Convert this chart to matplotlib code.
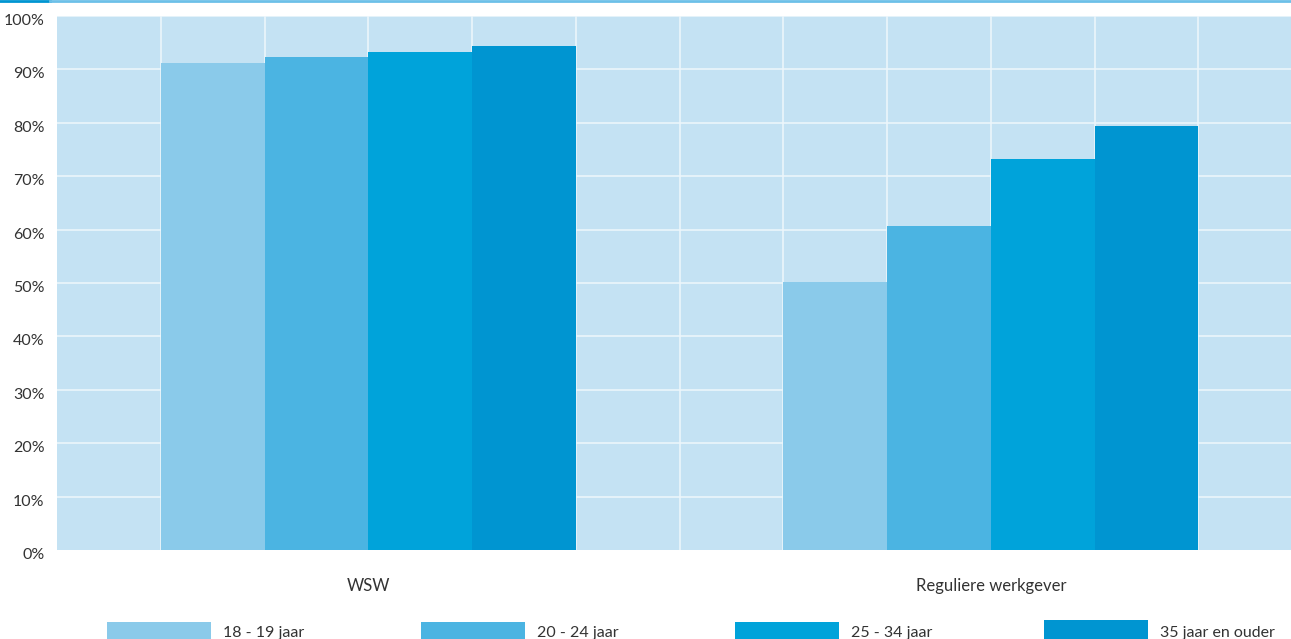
import matplotlib
matplotlib.use("Agg")
import matplotlib.pyplot as plt
import matplotlib.transforms as mtransforms
from matplotlib.patches import Rectangle
from matplotlib.lines import Line2D
import numpy as np

categories = ["WSW", "Reguliere werkgever"]
series = ["18 - 19 jaar", "20 - 24 jaar", "25 - 34 jaar", "35 jaar en ouder"]
values = {
    "18 - 19 jaar": [91.2, 50.2],
    "20 - 24 jaar": [92.3, 60.7],
    "25 - 34 jaar": [93.2, 73.2],
    "35 jaar en ouder": [94.4, 79.4],
}
yticks = [0, 10, 20, 30, 40, 50, 60, 70, 80, 90, 100]
colors = ["#8ACAEA", "#4BB4E2", "#00A3DA", "#0095D1"]

plt.rcParams['font.family'] = ['Lato', 'DejaVu Sans']

W, H = 1291, 639
fig = plt.figure(figsize=(W / 100, H / 100), dpi=100)

def px(x0, y0, x1, y1):
    return [x0 / W, 1 - y1 / H, (x1 - x0) / W, (y1 - y0) / H]

ax = fig.add_axes(px(57, 16, 1291, 550))
ax.set_facecolor("#C4E2F3")
for s in ax.spines.values():
    s.set_visible(False)

n = len(series)
group_starts = [1, 7]
for i, name in enumerate(series):
    xs = [g + i for g in group_starts]
    ax.bar(xs, values[name], width=1.0, align="edge", color=colors[i],
           linewidth=0, zorder=3)

ax.set_xlim(0, 1234 / 103.75)
ax.set_ylim(0, 100)
for x in range(1, 12):
    ax.axvline(x, color="#EEF7FC", lw=1.1, zorder=1)
for y in yticks[1:]:
    ax.axhline(y, color="#EEF7FC", lw=1.1, zorder=1)

ax.set_yticks(yticks)
ax.set_yticklabels([f"{v}%" for v in yticks], fontsize=11.5, color="#333333")
ax.tick_params(axis="y", length=0, pad=9)
offset = mtransforms.ScaledTranslation(0, -3.5 / 100, fig.dpi_scale_trans)
for lbl in ax.get_yticklabels():
    lbl.set_transform(lbl.get_transform() + offset)
centers = [g + n / 2 for g in group_starts]
ax.set_xticks(centers)
ax.set_xticklabels(categories, fontsize=12, color="#333333")
ax.tick_params(axis="x", length=0, pad=20)

# top decorative line
fig.add_artist(Line2D([0, 50 / W], [1 - 1 / H, 1 - 1 / H], color="#0095D1", lw=2,
                      transform=fig.transFigure))
fig.add_artist(Line2D([50 / W, 1], [1 - 1 / H, 1 - 1 / H], color="#6CC0E8", lw=2,
                      transform=fig.transFigure))

# legend
leg_x = [107, 421, 735, 1044]
for i, name in enumerate(series):
    x0 = leg_x[i]
    y0 = 622 if i < 3 else 620
    fig.add_artist(Rectangle((x0 / W, 1 - 645 / H), 104 / W, (645 - y0) / H,
                             transform=fig.transFigure, color=colors[i], lw=0))
    fig.text((x0 + 116) / W, 1 - 633 / H, name, fontsize=11.5, color="#333333",
             va="center", ha="left")

fig.savefig("out.png", dpi=100)
